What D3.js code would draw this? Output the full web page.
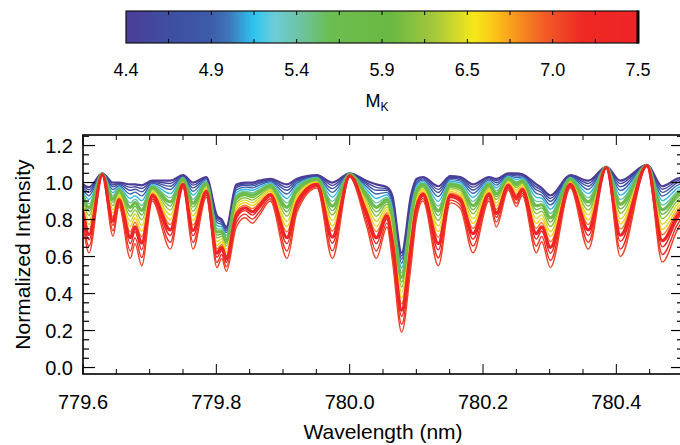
<!DOCTYPE html>
<html>
<head>
<meta charset="utf-8">
<script src="https://cdn.jsdelivr.net/npm/d3@7"></script>
<style>
  html, body { margin: 0; padding: 0; background: #fff; }
  svg { display: block; }
  text { font-family: "Liberation Sans", Arial, Helvetica, sans-serif; fill: #000; }
</style>
</head>
<body>
<svg id="chart" width="680" height="445"></svg>
<script>
// Wavelength grid (nm) shared by every spectrum
const wavelength = [
  779.600, 779.609, 779.629, 779.645, 779.654, 779.671, 779.678, 779.688, 779.704, 779.731,
  779.750, 779.765, 779.785, 779.801, 779.808, 779.815, 779.830, 779.843, 779.854, 779.864,
  779.881, 779.906, 779.921, 779.951, 779.974, 780.000, 780.025, 780.040, 780.056, 780.064,
  780.078, 780.092, 780.100, 780.110, 780.133, 780.151, 780.166, 780.185, 780.209, 780.220,
  780.238, 780.250, 780.259, 780.280, 780.288, 780.301, 780.331, 780.358, 780.385, 780.406,
  780.446, 780.469, 780.491, 780.500
];

// Absolute K magnitude of each star
const mkValues = [4.40, 4.55, 4.75, 4.95, 5.15, 5.45, 5.80, 5.95, 6.15, 6.40, 6.60, 6.85, 7.45, 7.40, 7.15, 7.05];

// Normalized flux of each star on the wavelength grid
const spec01 = [0.99,0.975,1.05,1.00,1.00,0.99,0.99,0.985,1.01,1.01, 1.04,1.00,1.03,0.82,0.80,0.76,0.99,1.00,1.00,1.01, 1.02,0.99,1.02,1.04,1.00,1.05,1.01,0.99,0.975,0.93, 0.62,0.93,1.02,1.03,0.98,1.035,1.03,0.99,1.03,1.02, 1.05,1.05,1.045,0.99,0.97,0.93,1.04,1.01,1.085,1.01, 1.095,0.98,1.02,1.03];
const spec02 = [0.982,0.961,1.050,0.988,0.995,0.974,0.977,0.968,1.006,0.995, 1.037,0.986,1.026,0.809,0.792,0.750,0.981,0.992,0.991,1.002, 1.015,0.974,1.013,1.037,0.984,1.049,1.000,0.974,0.966,0.916, 0.603,0.915,1.011,1.025,0.963,1.029,1.023,0.975,1.025,1.010, 1.046,1.043,1.040,0.975,0.958,0.914,1.037,0.995,1.085,0.994, 1.095,0.964,1.009,1.021];
const spec03 = [0.973,0.947,1.049,0.977,0.990,0.958,0.964,0.950,1.001,0.980, 1.034,0.971,1.021,0.798,0.783,0.741,0.972,0.985,0.982,0.995, 1.010,0.958,1.006,1.034,0.967,1.048,0.991,0.958,0.958,0.902, 0.586,0.900,1.002,1.020,0.946,1.023,1.016,0.960,1.020,0.999, 1.043,1.036,1.036,0.960,0.947,0.899,1.034,0.980,1.085,0.977, 1.095,0.947,0.998,1.012];
const spec04 = [0.963,0.929,1.049,0.962,0.983,0.938,0.948,0.928,0.996,0.962, 1.031,0.953,1.016,0.784,0.773,0.729,0.960,0.975,0.971,0.985, 1.004,0.938,0.997,1.031,0.947,1.047,0.979,0.938,0.947,0.885, 0.564,0.881,0.991,1.013,0.924,1.016,1.008,0.942,1.013,0.986, 1.038,1.027,1.030,0.942,0.932,0.879,1.031,0.962,1.084,0.957, 1.094,0.927,0.984,1.000];
const spec05 = [0.950,0.908,1.048,0.945,0.975,0.914,0.929,0.902,0.989,0.940, 1.027,0.932,1.009,0.767,0.760,0.714,0.946,0.964,0.958,0.974, 0.997,0.914,0.986,1.027,0.922,1.046,0.964,0.914,0.934,0.864, 0.538,0.858,0.978,1.005,0.898,1.007,0.998,0.920,1.005,0.971, 1.033,1.016,1.023,0.920,0.915,0.856,1.027,0.940,1.084,0.932, 1.094,0.902,0.967,0.986];
const spec06 = [0.938,0.886,1.048,0.928,0.968,0.890,0.910,0.876,0.983,0.918, 1.023,0.910,1.003,0.750,0.748,0.700,0.933,0.953,0.945,0.963, 0.990,0.890,0.975,1.023,0.898,1.045,0.950,0.890,0.921,0.843, 0.513,0.835,0.965,0.998,0.873,0.999,0.988,0.898,0.998,0.955, 1.028,1.005,1.016,0.898,0.898,0.833,1.023,0.918,1.084,0.908, 1.094,0.878,0.950,0.973];
const spec07 = [0.925,0.865,1.047,0.910,0.960,0.866,0.891,0.850,0.976,0.895, 1.018,0.888,0.996,0.733,0.735,0.686,0.919,0.941,0.932,0.951, 0.983,0.866,0.964,1.018,0.873,1.044,0.936,0.866,0.908,0.822, 0.487,0.812,0.952,0.990,0.847,0.990,0.977,0.875,0.990,0.939, 1.022,0.994,1.009,0.875,0.880,0.809,1.018,0.895,1.083,0.883, 1.093,0.853,0.933,0.959];
const spec08 = [0.912,0.844,1.046,0.893,0.952,0.842,0.872,0.824,0.969,0.873, 1.014,0.867,0.989,0.716,0.722,0.671,0.905,0.930,0.919,0.940, 0.976,0.842,0.953,1.014,0.848,1.043,0.921,0.842,0.895,0.801, 0.461,0.789,0.939,0.982,0.821,0.981,0.967,0.853,0.982,0.924, 1.017,0.983,1.002,0.853,0.863,0.786,1.014,0.873,1.083,0.858, 1.093,0.828,0.916,0.945];
const spec09 = [0.900,0.822,1.046,0.875,0.944,0.818,0.852,0.798,0.963,0.851, 1.010,0.845,0.983,0.700,0.710,0.657,0.891,0.918,0.905,0.928, 0.968,0.818,0.943,1.010,0.824,1.041,0.907,0.818,0.883,0.780, 0.435,0.767,0.925,0.974,0.795,0.973,0.957,0.831,0.974,0.908, 1.011,0.973,0.996,0.831,0.845,0.762,1.010,0.851,1.083,0.834, 1.093,0.804,0.900,0.931];
const spec10 = [0.885,0.798,1.045,0.855,0.935,0.790,0.830,0.768,0.955,0.825, 1.005,0.820,0.975,0.680,0.695,0.640,0.875,0.905,0.890,0.915, 0.960,0.790,0.930,1.005,0.795,1.040,0.890,0.790,0.868,0.755, 0.405,0.740,0.910,0.965,0.765,0.963,0.945,0.805,0.965,0.890, 1.005,0.960,0.988,0.805,0.825,0.735,1.005,0.825,1.083,0.805, 1.093,0.775,0.880,0.915];
const spec11 = [0.870,0.773,1.044,0.835,0.926,0.762,0.808,0.737,0.947,0.799, 1.000,0.795,0.967,0.660,0.680,0.623,0.859,0.892,0.875,0.902, 0.952,0.762,0.917,1.000,0.766,1.039,0.873,0.762,0.852,0.731, 0.375,0.713,0.895,0.956,0.735,0.952,0.933,0.779,0.956,0.872, 0.999,0.947,0.979,0.779,0.805,0.708,1.000,0.799,1.082,0.776, 1.092,0.746,0.860,0.899];
const spec12 = [0.856,0.748,1.044,0.814,0.917,0.734,0.785,0.707,0.940,0.773, 0.995,0.770,0.960,0.641,0.666,0.606,0.843,0.878,0.859,0.888, 0.943,0.734,0.905,0.995,0.738,1.037,0.856,0.734,0.837,0.706, 0.345,0.687,0.879,0.947,0.705,0.942,0.921,0.753,0.947,0.854, 0.992,0.935,0.971,0.753,0.784,0.680,0.995,0.773,1.082,0.748, 1.092,0.718,0.841,0.883];
const spec13 = [0.839,0.719,1.043,0.791,0.906,0.702,0.760,0.672,0.931,0.744, 0.990,0.741,0.951,0.618,0.649,0.587,0.824,0.863,0.842,0.873, 0.934,0.702,0.890,0.990,0.705,1.036,0.837,0.702,0.820,0.678, 0.310,0.656,0.862,0.936,0.670,0.931,0.908,0.724,0.936,0.833, 0.985,0.920,0.962,0.724,0.761,0.649,0.990,0.744,1.081,0.715, 1.091,0.685,0.818,0.864];
const spec14 = [0.822,0.691,1.042,0.768,0.896,0.670,0.734,0.637,0.922,0.714, 0.984,0.712,0.942,0.596,0.632,0.568,0.806,0.848,0.824,0.858, 0.924,0.670,0.876,0.984,0.672,1.034,0.818,0.670,0.803,0.650, 0.276,0.626,0.844,0.926,0.636,0.919,0.894,0.694,0.926,0.812, 0.978,0.906,0.953,0.694,0.738,0.618,0.984,0.714,1.081,0.682, 1.091,0.652,0.796,0.846];
const spec15 = [0.801,0.656,1.041,0.739,0.883,0.630,0.702,0.594,0.911,0.677, 0.977,0.676,0.931,0.568,0.611,0.544,0.783,0.829,0.802,0.839, 0.912,0.630,0.858,0.977,0.631,1.032,0.794,0.630,0.782,0.615, 0.233,0.588,0.822,0.913,0.593,0.905,0.877,0.657,0.913,0.786, 0.969,0.888,0.942,0.657,0.709,0.579,0.977,0.677,1.081,0.641, 1.091,0.611,0.768,0.823];
const spec16 = [0.78,0.62,1.04,0.71,0.87,0.59,0.67,0.55,0.90,0.64, 0.97,0.64,0.92,0.54,0.59,0.52,0.76,0.81,0.78,0.82, 0.90,0.59,0.84,0.97,0.59,1.03,0.77,0.59,0.76,0.58, 0.19,0.55,0.80,0.90,0.55,0.89,0.86,0.62,0.90,0.76, 0.96,0.87,0.93,0.62,0.68,0.54,0.97,0.64,1.08,0.60, 1.09,0.57,0.74,0.80];

// Stars drawn with a heavier stroke (index into the list below)
const boldStars = [0, 6, 12];

// Axis ticks and colour-bar labels
const xTicks = [779.6, 779.8, 780.0, 780.2, 780.4];
const yTicks = [0.0, 0.2, 0.4, 0.6, 0.8, 1.0, 1.2];
const colorbarLabels = ["4.4", "4.9", "5.4", "5.9", "6.5", "7.0", "7.5"];

// Colour table along the M_K bar (fraction of range -> colour)
const cbStops  = [0, 0.08, 0.16, 0.20, 0.25, 0.29, 0.34, 0.40, 0.52, 0.60, 0.68, 0.72, 0.76, 0.82, 0.89, 1];
const cbColors = ["#4b3d98","#3f4ea0","#3c5aa8","#3f74b8","#2ec5f0","#6ccdd8","#6dc3a2","#6cbd50",
                  "#6bb944","#a4c73b","#f5e81a","#fcc418","#f7961e","#f15a25","#ee2a24","#ee2326"];

const spectra = [spec01, spec02, spec03, spec04, spec05, spec06, spec07, spec08,
                 spec09, spec10, spec11, spec12, spec13, spec14, spec15, spec16];

const mkMin = 4.4, mkMax = 7.5;
const svg = d3.select("#chart");

const plot = { left: 83, right: 683, top: 135, bottom: 374 };
const x = d3.scaleLinear().domain([779.6, 780.5]).range([plot.left, plot.right]);
const y = d3.scaleLinear().domain([-0.035, 1.257]).range([plot.bottom, plot.top]);

const color = d3.scaleLinear()
  .domain(cbStops.map(f => mkMin + f * (mkMax - mkMin)))
  .range(cbColors)
  .interpolate(d3.interpolateRgb);

// ---------- colour bar ----------
const cb = { left: 126, right: 638, top: 11, bottom: 43 };
const cbx = d3.scaleLinear().domain([mkMin, mkMax]).range([cb.left, cb.right]);

const defs = svg.append("defs");
const grad = defs.append("linearGradient").attr("id", "mkgrad")
  .attr("x1", "0%").attr("x2", "100%").attr("y1", "0%").attr("y2", "0%");
d3.range(0, 1.0001, 0.01).forEach(f => {
  grad.append("stop").attr("offset", (f * 100) + "%")
    .attr("stop-color", color(mkMin + f * (mkMax - mkMin)));
});

svg.append("rect")
  .attr("x", cb.left).attr("y", cb.top)
  .attr("width", cb.right - cb.left).attr("height", cb.bottom - cb.top)
  .attr("fill", "url(#mkgrad)");

const cbTickVals = d3.range(1, 12).map(i => mkMin + i * (mkMax - mkMin) / 12);
svg.append("g").selectAll("line.cbt").data(cbTickVals).join("line")
  .attr("x1", d => cbx(d)).attr("x2", d => cbx(d))
  .attr("y1", cb.top).attr("y2", cb.top + 4)
  .attr("stroke", "#000").attr("stroke-width", 1);
svg.append("g").selectAll("line.cbb").data(cbTickVals).join("line")
  .attr("x1", d => cbx(d)).attr("x2", d => cbx(d))
  .attr("y1", cb.bottom - 4).attr("y2", cb.bottom)
  .attr("stroke", "#000").attr("stroke-width", 1);

svg.append("rect")
  .attr("x", cb.left).attr("y", cb.top)
  .attr("width", cb.right - cb.left).attr("height", cb.bottom - cb.top)
  .attr("fill", "none").attr("stroke", "#111").attr("stroke-width", 1.2);
svg.append("line")
  .attr("x1", cb.right).attr("x2", cb.right).attr("y1", cb.top - 0.5).attr("y2", cb.bottom + 0.5)
  .attr("stroke", "#000").attr("stroke-width", 3);

const cbLabelScale = d3.scalePoint().domain(colorbarLabels).range([cb.left, cb.right]);
svg.append("g").selectAll("text").data(colorbarLabels).join("text")
  .attr("x", d => cbLabelScale(d)).attr("y", 76)
  .attr("text-anchor", "middle").attr("font-size", 18)
  .text(d => d);

const mkLabel = svg.append("text").attr("x", 377).attr("y", 107)
  .attr("font-size", 18).attr("text-anchor", "middle");
mkLabel.append("tspan").text("M");
mkLabel.append("tspan").attr("font-size", 12).attr("dy", 4).text("K");

// ---------- spectra ----------
defs.append("clipPath").attr("id", "plotclip").append("rect")
  .attr("x", plot.left).attr("y", plot.top)
  .attr("width", plot.right - plot.left).attr("height", plot.bottom - plot.top);

const line = d3.line()
  .defined((d, i) => i < wavelength.length)
  .x((d, i) => x(wavelength[i]))
  .y(d => y(d))
  .curve(d3.curveMonotoneX);

const stars = spectra.map((s, i) => ({ flux: s, mk: mkValues[i], bold: boldStars.includes(i), idx: i }));
const drawOrder = stars.filter(s => !s.bold).concat(stars.filter(s => s.bold));

svg.append("g").attr("clip-path", "url(#plotclip)")
  .selectAll("path").data(drawOrder).join("path")
  .attr("d", s => line(s.flux))
  .attr("fill", "none")
  .attr("stroke", s => color(s.mk))
  .attr("stroke-width", s => s.bold ? (s.idx === 0 ? 2.2 : 3.2) : 1.4)
  .attr("stroke-linejoin", "round");

// ---------- axes frame and ticks ----------
const axisG = svg.append("g").attr("stroke", "#000");
const xMinor = d3.range(779.6, 780.5001, 0.05).map(v => +v.toFixed(2));
const yMinor = d3.range(0, 1.2501, 0.05).map(v => +v.toFixed(2));
const isMajorX = v => xTicks.some(t => Math.abs(t - v) < 1e-6);
const isMajorY = v => yTicks.some(t => Math.abs(t - v) < 1e-6);

xMinor.forEach(v => {
  const len = isMajorX(v) ? 10 : 5;
  axisG.append("line").attr("x1", x(v)).attr("x2", x(v))
    .attr("y1", plot.bottom).attr("y2", plot.bottom - len).attr("stroke-width", 1);
  axisG.append("line").attr("x1", x(v)).attr("x2", x(v))
    .attr("y1", plot.top).attr("y2", plot.top + len).attr("stroke-width", 1);
});
yMinor.forEach(v => {
  const len = isMajorY(v) ? 12 : 6;
  axisG.append("line").attr("x1", plot.left).attr("x2", plot.left + len)
    .attr("y1", y(v)).attr("y2", y(v)).attr("stroke-width", 1.2);
  axisG.append("line").attr("x1", plot.right).attr("x2", plot.right - len)
    .attr("y1", y(v)).attr("y2", y(v)).attr("stroke-width", 1.2);
});

svg.append("rect")
  .attr("x", plot.left).attr("y", plot.top)
  .attr("width", plot.right - plot.left).attr("height", plot.bottom - plot.top)
  .attr("fill", "none").attr("stroke", "#000").attr("stroke-width", 1.6);

// tick labels
svg.append("g").selectAll("text").data(xTicks).join("text")
  .attr("x", d => x(d)).attr("y", 409)
  .attr("text-anchor", "middle").attr("font-size", 20)
  .text(d => d.toFixed(1));

svg.append("g").selectAll("text").data(yTicks).join("text")
  .attr("x", 73).attr("y", d => y(d) + 7)
  .attr("text-anchor", "end").attr("font-size", 20)
  .text(d => d.toFixed(1));

// axis titles
svg.append("text").attr("x", 383).attr("y", 439)
  .attr("text-anchor", "middle").attr("font-size", 21)
  .text("Wavelength (nm)");

svg.append("text")
  .attr("transform", "translate(30," + ((plot.top + plot.bottom) / 2) + ") rotate(-90)")
  .attr("text-anchor", "middle").attr("font-size", 21)
  .text("Normalized Intensity");
</script>
</body>
</html>
